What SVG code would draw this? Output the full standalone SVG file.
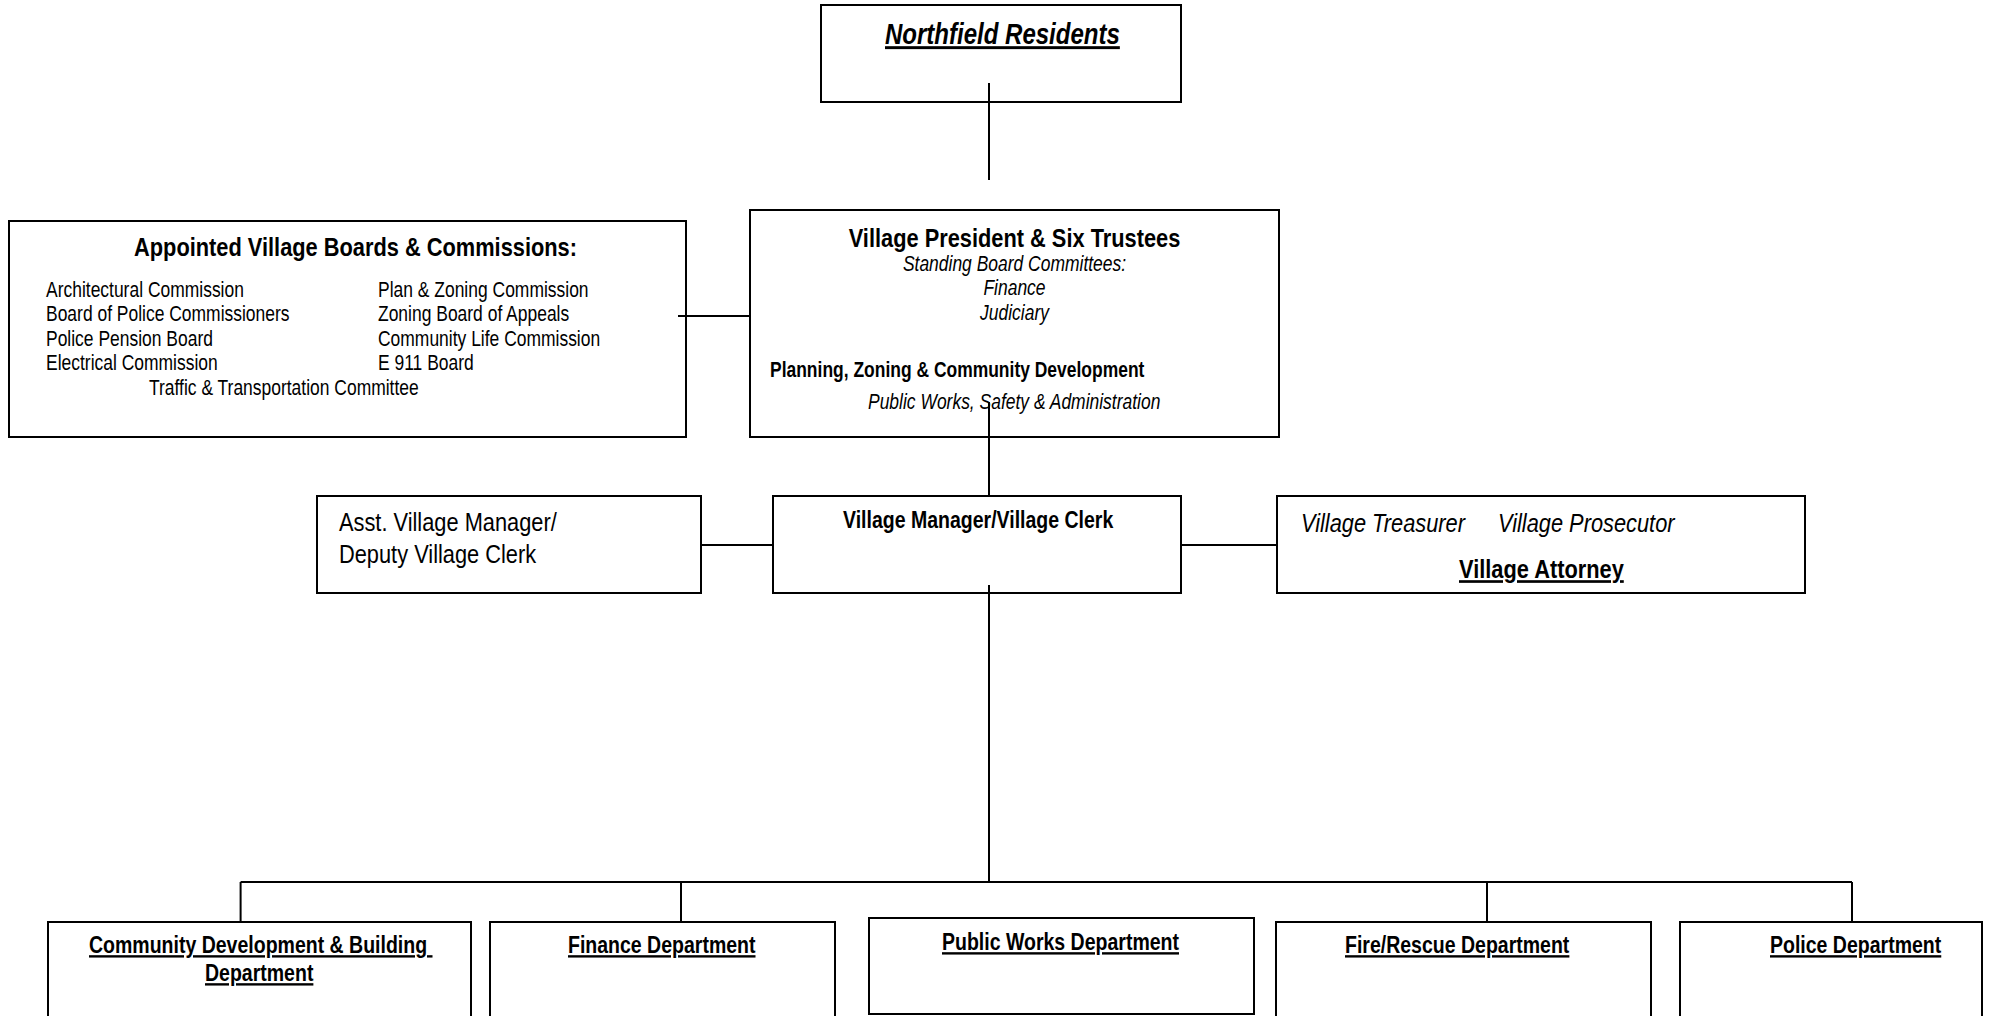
<svg xmlns="http://www.w3.org/2000/svg" width="1996" height="1016" viewBox="0 0 1996 1016">
<style>
.box{fill:#fff;stroke:#000;stroke-width:2}
.conn line{stroke:#000;stroke-width:2}
text{font-family:"Liberation Sans",Arial,sans-serif;fill:#000}
.b{font-weight:bold}
.i{font-style:italic}
.u{text-decoration:underline}
.s16{font-size:21.3px}
.s18{font-size:23.8px}
.s20{font-size:26.6px}
.m{text-anchor:middle}
</style>
<rect width="1996" height="1016" fill="#fff"/>
<g id="n-residents"><rect class="box" x="821" y="5" width="360" height="97"/>
<text class="b i u" transform="matrix(.82 0 0 1 885 44)" style="font-size:29.3px">Northfield Residents</text></g>
<g id="n-boards"><rect class="box" x="9" y="221" width="677" height="216"/>
<text class="b s20" transform="matrix(.82 0 0 1 134 256)">Appointed Village Boards &amp; Commissions:</text>
<text class="s16" transform="matrix(.82 0 0 1 46 297)">Architectural Commission</text>
<text class="s16" transform="matrix(.82 0 0 1 46 321)">Board of Police Commissioners</text>
<text class="s16" transform="matrix(.82 0 0 1 46 346)">Police Pension Board</text>
<text class="s16" transform="matrix(.82 0 0 1 46 370)">Electrical Commission</text>
<text class="s16" transform="matrix(.82 0 0 1 378 297)">Plan &amp; Zoning Commission</text>
<text class="s16" transform="matrix(.82 0 0 1 378 321)">Zoning Board of Appeals</text>
<text class="s16" transform="matrix(.82 0 0 1 378 346)">Community Life Commission</text>
<text class="s16" transform="matrix(.82 0 0 1 378 370)">E 911 Board</text>
<text class="s16" transform="matrix(.82 0 0 1 149 395)">Traffic &amp; Transportation Committee</text></g>
<g id="n-president"><rect class="box" x="750" y="210" width="529" height="227"/>
<text class="b s20 m" transform="matrix(.82 0 0 1 1014.5 247)">Village President &amp; Six Trustees</text>
<text class="i s16 m" transform="matrix(.82 0 0 1 1014.5 271)">Standing Board Committees:</text>
<text class="i s16 m" transform="matrix(.82 0 0 1 1014.5 295)">Finance</text>
<text class="i s16 m" transform="matrix(.82 0 0 1 1014.5 319.5)">Judiciary</text>
<text class="b s16" transform="matrix(.82 0 0 1 770 377)">Planning, Zoning &amp; Community Development</text>
<text class="i s16" transform="matrix(.82 0 0 1 868 409)">Public Works, Safety &amp; Administration</text></g>
<g id="n-asst"><rect class="box" x="317" y="496" width="384" height="97"/>
<text class="s20" transform="matrix(.82 0 0 1 339 531)">Asst. Village Manager/</text>
<text class="s20" transform="matrix(.82 0 0 1 339 563)">Deputy Village Clerk</text></g>
<g id="n-manager"><rect class="box" x="773" y="496" width="408" height="97"/>
<text class="b s18" transform="matrix(.82 0 0 1 843 528)">Village Manager/Village Clerk</text></g>
<g id="n-legal"><rect class="box" x="1277" y="496" width="528" height="97"/>
<text class="i s20" transform="matrix(.82 0 0 1 1301 532)">Village Treasurer</text>
<text class="i s20" transform="matrix(.82 0 0 1 1498 532)">Village Prosecutor</text>
<text class="b u s20" transform="matrix(.82 0 0 1 1459 578)">Village Attorney</text></g>
<g id="n-cdb"><rect class="box" x="48" y="922" width="423" height="110"/>
<text class="b u s18" transform="matrix(.82 0 0 1 89 953)" xml:space="preserve">Community Development &amp; Building </text>
<text class="b u s18" transform="matrix(.82 0 0 1 205 981)">Department</text></g>
<g id="n-finance"><rect class="box" x="490" y="922" width="345" height="110"/>
<text class="b u s18" transform="matrix(.82 0 0 1 568 953)">Finance Department</text></g>
<g id="n-publicworks"><rect class="box" x="869" y="918" width="385" height="96"/>
<text class="b u s18" transform="matrix(.82 0 0 1 942 950)">Public Works Department</text></g>
<g id="n-fire"><rect class="box" x="1276" y="922" width="375" height="110"/>
<text class="b u s18" transform="matrix(.82 0 0 1 1345 953)">Fire/Rescue Department</text></g>
<g id="n-police"><rect class="box" x="1680" y="922" width="302" height="110"/>
<text class="b u s18" transform="matrix(.82 0 0 1 1770 953)">Police Department</text></g>
<g id="connectors" class="conn">
<line x1="989" y1="83" x2="989" y2="180"/>
<line x1="678" y1="316" x2="750" y2="316"/>
<line x1="989" y1="402" x2="989" y2="496"/>
<line x1="701" y1="545" x2="773" y2="545"/>
<line x1="1181" y1="545" x2="1277" y2="545"/>
<line x1="989" y1="585" x2="989" y2="882"/>
<line x1="240.6" y1="882" x2="1852" y2="882"/>
<line x1="240.6" y1="882" x2="240.6" y2="922"/>
<line x1="681" y1="882" x2="681" y2="922"/>
<line x1="1487" y1="882" x2="1487" y2="922"/>
<line x1="1852" y1="882" x2="1852" y2="922"/>
</g>
</svg>
